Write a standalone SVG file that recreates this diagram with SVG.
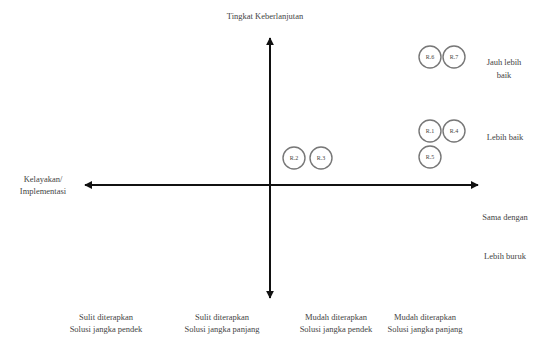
<svg xmlns="http://www.w3.org/2000/svg" width="538" height="340" viewBox="0 0 538 340">
<style>
.lbl{font-family:"Liberation Serif","Times New Roman",serif;font-size:8.5px;fill:#444;text-anchor:middle}
.ax{stroke:#111;stroke-width:2;fill:none}
.c circle{fill:#fff;stroke:#777;stroke-width:1.4}
.c text{font-family:"Liberation Serif","Times New Roman",serif;font-size:6px;fill:#444;text-anchor:middle}
</style>
<defs>
<marker id="ah" viewBox="0 0 10 10" refX="9" refY="5" markerWidth="4" markerHeight="4" orient="auto-start-reverse" markerUnits="strokeWidth">
<path d="M0,0 L10,5 L0,10 z" fill="#111"/>
</marker>
</defs>
<rect width="538" height="340" fill="#fff"/>
<g id="connectors">
<line class="ax" x1="270" y1="298" x2="270" y2="38" marker-end="url(#ah)" marker-start="url(#ah)"/>
<line class="ax" x1="85" y1="185" x2="478" y2="185" marker-end="url(#ah)" marker-start="url(#ah)"/>
</g>
<g id="labels">
<text class="lbl" x="265" y="19">Tingkat Keberlanjutan</text>
<text class="lbl" x="43" y="182">Kelayakan/</text>
<text class="lbl" x="43" y="194">Implementasi</text>
<text class="lbl" x="504" y="65">Jauh lebih</text>
<text class="lbl" x="504" y="78">baik</text>
<text class="lbl" x="505" y="140">Lebih baik</text>
<text class="lbl" x="505" y="220">Sama dengan</text>
<text class="lbl" x="505" y="259">Lebih buruk</text>
<text class="lbl" x="106" y="320">Sulit diterapkan</text>
<text class="lbl" x="106" y="332">Solusi jangka pendek</text>
<text class="lbl" x="222" y="320">Sulit diterapkan</text>
<text class="lbl" x="222" y="332">Solusi jangka panjang</text>
<text class="lbl" x="336" y="320">Mudah diterapkan</text>
<text class="lbl" x="336" y="332">Solusi jangka pendek</text>
<text class="lbl" x="425" y="320">Mudah diterapkan</text>
<text class="lbl" x="425" y="332">Solusi jangka panjang</text>
</g>
<g id="R2" class="c"><circle cx="294" cy="158" r="11"/><text x="294" y="160">R.2</text></g>
<g id="R3" class="c"><circle cx="321" cy="158" r="11"/><text x="321" y="160">R.3</text></g>
<g id="R6" class="c"><circle cx="430" cy="57" r="11"/><text x="430" y="59">R.6</text></g>
<g id="R7" class="c"><circle cx="454" cy="57" r="11"/><text x="454" y="59">R.7</text></g>
<g id="R1" class="c"><circle cx="430" cy="131" r="11"/><text x="430" y="133">R.1</text></g>
<g id="R4" class="c"><circle cx="454" cy="131" r="11"/><text x="454" y="133">R.4</text></g>
<g id="R5" class="c"><circle cx="430" cy="157" r="11"/><text x="430" y="159">R.5</text></g>
</svg>
